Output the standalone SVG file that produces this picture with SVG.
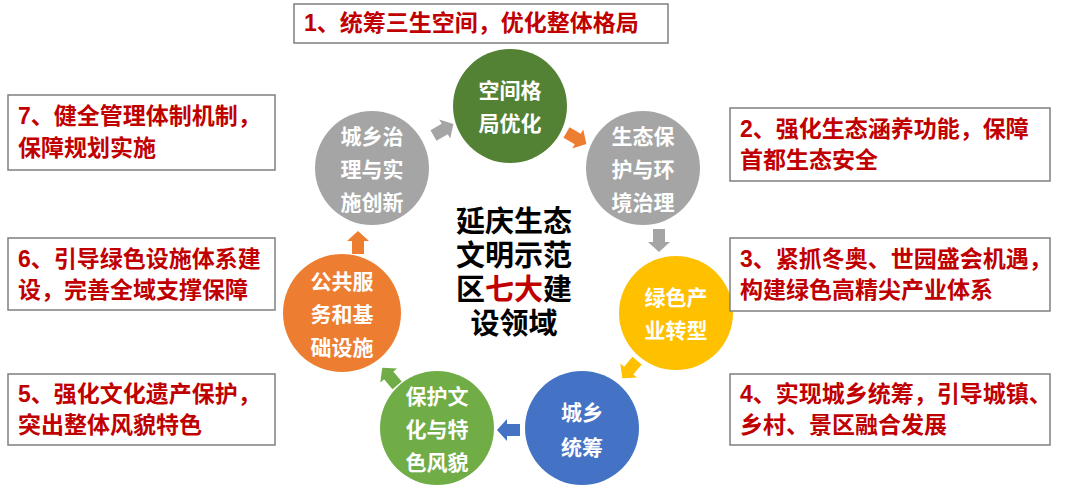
<svg xmlns="http://www.w3.org/2000/svg" width="1080" height="497" viewBox="0 0 1080 497">
<style>
.box{fill:#fff;stroke:#7f7f7f;stroke-width:1.5}
.lab{font-family:"Liberation Sans","Noto Sans CJK SC",sans-serif;font-size:23px;font-weight:bold;fill:#c00000}
.ct{font-family:"Liberation Sans","Noto Sans CJK SC",sans-serif;font-size:21px;font-weight:bold;fill:#fff;text-anchor:middle}
.mid{font-family:"Liberation Sans","Noto Sans CJK SC",sans-serif;font-size:29px;font-weight:bold;fill:#000;text-anchor:middle}
</style>
<defs><path id="ar" d="M-11,-6 L2,-6 L2,-11 L12,0 L2,11 L2,6 L-11,6 Z"/></defs>
<rect width="1080" height="497" fill="#fff"/>
<g id="connectors">
<use href="#ar" fill="#a5a5a5" transform="translate(443,130) rotate(-30)"/>
<use href="#ar" fill="#ed7d31" transform="translate(576,138) rotate(30)"/>
<use href="#ar" fill="#a5a5a5" transform="translate(659,240) rotate(90)"/>
<use href="#ar" fill="#ffc000" transform="translate(630,369) rotate(130)"/>
<use href="#ar" fill="#4472c4" transform="translate(509,430) rotate(180)"/>
<use href="#ar" fill="#70ad47" transform="translate(390,377) rotate(-130)"/>
<use href="#ar" fill="#ed7d31" transform="translate(358,243) rotate(-90)"/>
</g>
<g id="n1"><circle cx="510" cy="106" r="57" fill="#548235"/><text class="ct" x="510" y="98">空间格</text><text class="ct" x="510" y="131">局优化</text></g>
<g id="n2"><circle cx="643" cy="168" r="57" fill="#a5a5a5"/><text class="ct" x="643" y="144">生态保</text><text class="ct" x="643" y="177">护与环</text><text class="ct" x="643" y="210">境治理</text></g>
<g id="n3"><circle cx="676" cy="313" r="57" fill="#ffc000"/><text class="ct" x="676" y="305">绿色产</text><text class="ct" x="676" y="338">业转型</text></g>
<g id="n4"><circle cx="582" cy="428" r="57" fill="#4472c4"/><text class="ct" x="582" y="420">城乡</text><text class="ct" x="582" y="455">统筹</text></g>
<g id="n5"><circle cx="437" cy="428" r="57" fill="#70ad47"/><text class="ct" x="437" y="404">保护文</text><text class="ct" x="437" y="437">化与特</text><text class="ct" x="437" y="470">色风貌</text></g>
<g id="n6"><circle cx="342" cy="313" r="59" fill="#ed7d31"/><text class="ct" x="342" y="289">公共服</text><text class="ct" x="342" y="322">务和基</text><text class="ct" x="342" y="355">础设施</text></g>
<g id="n7"><circle cx="372" cy="168" r="57" fill="#a5a5a5"/><text class="ct" x="372" y="144">城乡治</text><text class="ct" x="372" y="177">理与实</text><text class="ct" x="372" y="210">施创新</text></g>
<g id="center"><text class="mid" x="514" y="232">延庆生态</text><text class="mid" x="514" y="266">文明示范</text><text class="mid" x="514" y="300">区<tspan fill="#c00000">七大</tspan>建</text><text class="mid" x="514" y="334">设领域</text></g>
<g id="b1"><rect class="box" x="294" y="4" width="374" height="39"/><text class="lab" x="304" y="31">1、统筹三生空间，优化整体格局</text></g>
<g id="b2"><rect class="box" x="730" y="108" width="320" height="73"/><text class="lab" x="740" y="137">2、强化生态涵养功能，保障</text><text class="lab" x="740" y="168">首都生态安全</text></g>
<g id="b3"><rect class="box" x="730" y="238" width="320" height="73"/><text class="lab" x="740" y="267">3、紧抓冬奥、世园盛会机遇，</text><text class="lab" x="740" y="298">构建绿色高精尖产业体系</text></g>
<g id="b4"><rect class="box" x="730" y="374" width="320" height="71"/><text class="lab" x="740" y="402">4、实现城乡统筹，引导城镇、</text><text class="lab" x="740" y="433">乡村、景区融合发展</text></g>
<g id="b5"><rect class="box" x="8" y="374" width="267" height="71"/><text class="lab" x="18" y="402">5、强化文化遗产保护，</text><text class="lab" x="18" y="433">突出整体风貌特色</text></g>
<g id="b6"><rect class="box" x="8" y="238" width="267" height="72"/><text class="lab" x="18" y="267">6、引导绿色设施体系建</text><text class="lab" x="18" y="298">设，完善全域支撑保障</text></g>
<g id="b7"><rect class="box" x="8" y="95" width="267" height="75"/><text class="lab" x="18" y="124">7、健全管理体制机制，</text><text class="lab" x="18" y="156">保障规划实施</text></g>
</svg>
